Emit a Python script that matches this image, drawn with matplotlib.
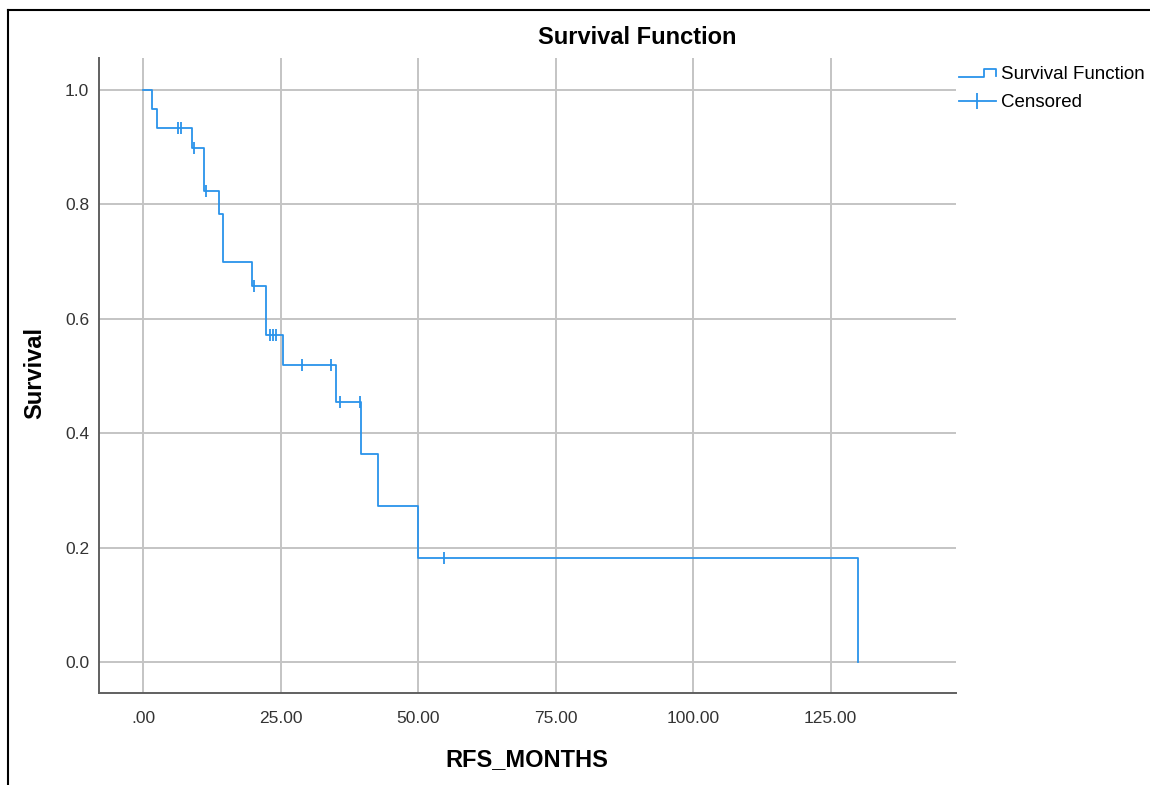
import numpy as np
import matplotlib
matplotlib.use("Agg")
import matplotlib.pyplot as plt
from matplotlib.lines import Line2D
from matplotlib.legend_handler import HandlerBase

plt.rcParams['font.family'] = ['Liberation Sans', 'DejaVu Sans']

# Kaplan-Meier steps (months, survival)
event_months = [0.0, 1.6, 2.5, 8.9, 11.0, 13.9, 14.5, 19.8, 22.4, 25.5, 35.1, 39.7, 42.7, 50.0, 129.9]
survival = [1.0, 0.967, 0.933, 0.898, 0.824, 0.783, 0.700, 0.657, 0.572, 0.519, 0.455, 0.364, 0.273, 0.182, 0.0]
# censored cases
censored_months = [6.3, 6.85, 9.3, 11.45, 20.2, 23.0, 23.6, 24.2, 28.85, 34.2, 35.9, 39.4, 54.8]

x_ticks = [0, 25, 50, 75, 100, 125]
x_ticklabels = ['.00', '25.00', '50.00', '75.00', '100.00', '125.00']
y_ticks = [0.0, 0.2, 0.4, 0.6, 0.8, 1.0]

blue = '#2a93ea'
grid_col = '#c4c4c4'
W, H = 1150, 785


class StepHandler(HandlerBase):
    # little step shape like the SPSS legend
    def create_artists(self, legend, orig_handle, xdescent, ydescent,
                       width, height, fontsize, trans):
        xs = np.array([0, 0.68, 0.68, 1.0, 1.0]) * width - xdescent
        ys = np.array([0.2, 0.2, 0.8, 0.8, 0.25]) * height - ydescent
        ln = Line2D(xs, ys, color=blue, lw=1.3)
        ln.set_transform(trans)
        return [ln]


fig = plt.figure(figsize=(W / 100, H / 100), dpi=100)
ax = fig.add_axes([99 / W, 1 - 693 / H, (956 - 99) / W, (693 - 58) / H])

ax.step(event_months, survival, where='post', color=blue, lw=1.3, zorder=3)
cens_idx = np.searchsorted(event_months, censored_months, side='right') - 1
cens_surv = np.array(survival)[cens_idx]
ax.plot(censored_months, cens_surv, ls='none', marker='|', ms=8, mew=1.3,
        color=blue, zorder=4)

ax.set_xlim(-8.0, 147.8)
ax.set_ylim(-0.054, 1.056)
ax.set_xticks(x_ticks)
ax.set_xticklabels(x_ticklabels)
ax.set_yticks(y_ticks)
ax.set_yticklabels([f'{v:.1f}' for v in y_ticks])
ax.tick_params(length=0, labelsize=12.5, labelcolor='#333333')
ax.tick_params(axis='x', pad=13)
ax.tick_params(axis='y', pad=7)
ax.grid(True, color=grid_col, lw=1.4)
ax.set_axisbelow(True)
for s in ['top', 'right']:
    ax.spines[s].set_visible(False)
for s in ['left', 'bottom']:
    ax.spines[s].set_color('#606060')
    ax.spines[s].set_linewidth(1.4)

fig.text(637 / W, 1 - 38 / H, 'Survival Function', ha='center', va='center',
         fontsize=17, fontweight='bold')
fig.text(527 / W, 1 - 760 / H, 'RFS_MONTHS', ha='center', va='center',
         fontsize=17, fontweight='bold')
fig.text(35 / W, 1 - 373 / H, 'Survival', ha='center', va='center',
         rotation=90, fontsize=17, fontweight='bold')

h_surv = Line2D([], [], color=blue, lw=1.3)
h_cens = Line2D([], [], color=blue, lw=1.3, marker='|', ms=12, mew=1.3)
fig.legend([h_surv, h_cens], ['Survival Function', 'Censored'],
           handler_map={h_surv: StepHandler()}, numpoints=1,
           loc='upper left', bbox_to_anchor=(959 / W, 1 - 66 / H),
           frameon=False, fontsize=13.5, handlelength=1.95, handletextpad=0.3,
           labelspacing=0.58, borderaxespad=0, borderpad=0)

# outer frame lines (left and top) of the screenshot
fig.add_artist(Line2D([8 / W, 8 / W], [0, 1 - 10 / H], color='black', lw=1.5))
fig.add_artist(Line2D([8 / W, 1], [1 - 10 / H, 1 - 10 / H], color='black', lw=1.5))

fig.savefig('out.png', dpi=100)
